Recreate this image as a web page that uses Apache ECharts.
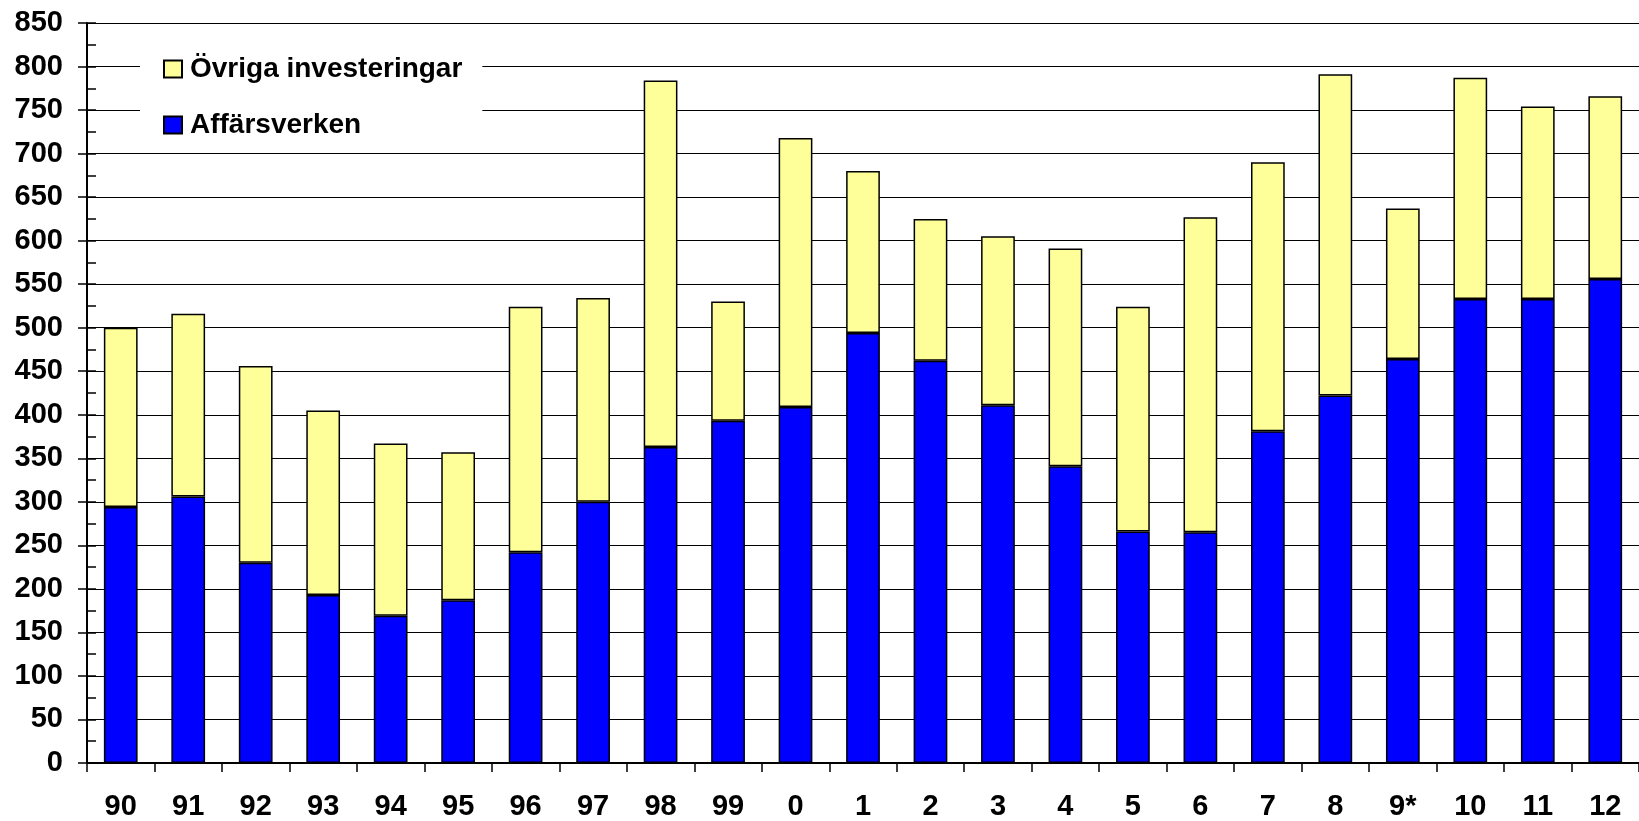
<!DOCTYPE html>
<html>
<head>
<meta charset="utf-8">
<script src="https://cdn.jsdelivr.net/npm/echarts@6/dist/echarts.min.js"></script>
<style>
html,body{margin:0;padding:0;background:#fff;}
#chart{width:1639px;height:821px;}
</style>
</head>
<body>
<div id="chart"></div>
<script>
const categories = ['90','91','92','93','94','95','96','97','98','99','0','1','2','3','4','5','6','7','8','9*','10','11','12'];
const affarsverken = [294, 306, 230, 193, 169, 187, 242, 300, 363, 393, 409, 494, 462, 411, 341, 266, 265, 381, 422, 464, 533, 533, 556];
const ovriga = [206, 210, 226, 212, 198, 170, 282, 234, 421, 137, 309, 186, 163, 194, 250, 258, 362, 309, 369, 173, 254, 221, 210];
const seriesNames = ['Övriga investeringar', 'Affärsverken'];

const FONT = 'Arial, "Liberation Sans", sans-serif';
const chart = echarts.init(document.getElementById('chart'));
chart.setOption({
  animation: false,
  backgroundColor: '#fff',
  grid: { left: 87, top: 23, bottom: 56, width: 1564 },
  legend: {
    data: seriesNames,
    orient: 'vertical',
    left: 140,
    top: 38,
    padding: [17, 20, 10, 23],
    backgroundColor: '#fff',
    icon: 'rect',
    itemWidth: 18,
    itemHeight: 17,
    itemGap: 28,
    selectedMode: false,
    textStyle: { fontFamily: FONT, fontWeight: 'bold', fontSize: 28, color: '#000', lineHeight: 28, padding: [0, 0, 0, 3] }
  },
  xAxis: {
    type: 'category',
    data: categories,
    boundaryGap: true,
    axisLine: { lineStyle: { color: '#000', width: 2 } },
    axisTick: { show: true, length: 9, lineStyle: { color: '#000', width: 1.5 } },
    axisLabel: { fontFamily: FONT, fontWeight: 'bold', fontSize: 29, color: '#000', margin: 29, interval: 0 },
    splitLine: { show: false }
  },
  yAxis: [
    {
      type: 'value', position: 'left',
      min: 0, max: 850, interval: 50,
      axisLine: { show: true, lineStyle: { color: '#000', width: 2 } },
      axisTick: { show: true, length: 9, lineStyle: { color: '#000', width: 1.5 } },
      axisLabel: { fontFamily: FONT, fontWeight: 'bold', fontSize: 29, color: '#000', margin: 24 },
      splitLine: { show: true, lineStyle: { color: '#000', width: 1.2 } }
    },
    {
      type: 'value', position: 'left',
      min: 0, max: 850, interval: 25,
      axisLine: { show: false },
      axisTick: { show: true, inside: true, length: 9, lineStyle: { color: '#000', width: 1.5 } },
      axisLabel: { show: false },
      splitLine: { show: false }
    }
  ],
  series: [
    {
      name: seriesNames[1], type: 'bar', stack: 'tot', yAxisIndex: 0,
      data: affarsverken, barWidth: '50%',
      itemStyle: { color: '#0000FF', borderColor: '#000', borderWidth: 1.5 }
    },
    {
      name: seriesNames[0], type: 'bar', stack: 'tot', yAxisIndex: 0,
      data: ovriga, barWidth: '50%',
      itemStyle: { color: '#FFFF99', borderColor: '#000', borderWidth: 1.5 }
    }
  ]
});
</script>
</body>
</html>
